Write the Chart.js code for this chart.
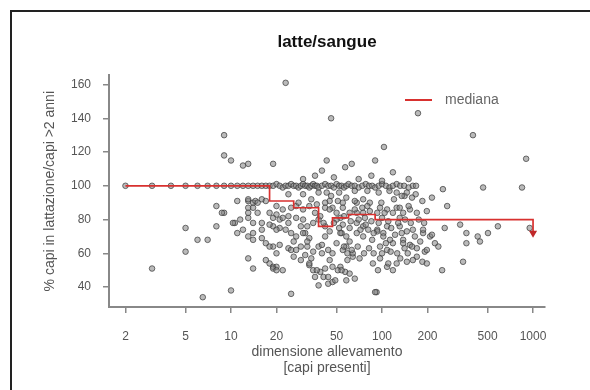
<!DOCTYPE html>
<html>
<head>
<meta charset="utf-8">
<script src="https://cdn.jsdelivr.net/npm/chart.js@4.4.0/dist/chart.umd.min.js"></script>
<style>
  html, body { margin: 0; padding: 0; background: #fff; width: 590px; height: 390px; overflow: hidden; }
  #frame { position: absolute; left: 10px; top: 10px; width: 640px; height: 440px; border: 2px solid #222; }
  #c { position: absolute; left: 0; top: 0; }
  #legLine { position: absolute; left: 405px; top: 99px; width: 27px; height: 2px; background: #d8312f; }
  #legText { position: absolute; left: 445px; top: 91px; font: 14px "Liberation Sans", Arial, sans-serif; color: #666; }
</style>
</head>
<body>
<div id="frame"></div>
<canvas id="c" width="590" height="390"></canvas>
<div id="legLine"></div>
<div id="legText">mediana</div>
<script>
// herd size (capi presenti) and % lactating / cows > 2 years
const herdSize = [
  2,3,4,5,6,7,8,9,10,11,12,13,14,15,16,17,
  18,19,20,21,22,23,24,25,26,27,
  28,29,30,31,32,33,34,35,36,37,
  38,40,42,44,46,48,50,52,54,56,
  58,60,63,66,70,74,78,82,86,90,
  95,100,106,112,118,125,132,140,150,160,
  168,
  3,5,5,6,7,6.5,8,8,9,10,
  9,9,10,12,13,19,23,46,173,103,
  400,900,845,467,253,214,141,167,43,40,
  57,63,48,90,118,70,85,150,30,36,
  100,125,112,95,80,66,52,38,30,24,
  950,
  11,13,13,13,13,11,13,13,14,18,
  19,14,16,17,10.6,11.5,13,14,15,12,
  14,16,18,19,20,21,19,21,23,25,
  16,18,16,17,19,21,24,27,26,29,
  20,22,25,33,35,36,39,41,44,47,
  32,35,38,27,30,32,25,27,30,31,
  33,42,45,42,43,45,42,47,50,53,
  54,58,61,55,59,64,59,53,57,68,
  74,75,68,75,81,83,93,100,93,102,
  108,97,108,118,92,108,125,125,138,131,
  131,146,160,138,153,170,170,185,158,185,
  198,17,19,20,10.3,14,8.7,
  260,329,362,430,445,503,585,362,344,250,
  192,146,160,187,208,224,236,179,141,270,
  14.5,15,14,20,22,24,27,30,32,18,
  20,25,37,42,44,38,33,47,51,49,
  44,47,40,38,50,55,53,46,51,55,
  42,45,
  58,66,75,83,55,61,68,77,97,108,
  118,131,153,170,135,146,61,68,75,86,
  93,102,113,122,138,158,198,58,64,71,
  88,97,110,54,61,118,90,187,214,198,
  28,33,36,39,41,35,29,24,22,20,
  34,37,48,52,56,62,66,70,72,78,
  80,85,88,95,99,104,110,115,120,128,
  135,142,150,155,165,175,190,26,29,31,
  34,40,45,50,56,63,69,76,82,87,
  94,100,106,114,126,132,148,58,66
];
const pctLatt = [
  100,100,100,100,100,100,100,100,100,100,100,100,100,100,100,100,
  100,100,101,100,99,100,100,101,100,100,
  99,100,101,100,100,99,100,101,100,100,
  99,100,101,100,100,99,101,100,100,99,
  100,101,100,100,99,100,101,100,100,99,
  100,101,100,99,100,101,100,100,99,100,
  100,
  51,75,61,68,68,34,76,88,84,38,
  130,118,115,112,113,113,161,140,143,123,
  130,116,99,99,98,93,94,95,115,109,
  111,113,105,115,108,104,106,104,104,106,
  103,96,97,96,97,97,96,96,95,95,
  75,
  91,91,92,81,87,72,70,57,51,54,
  52,90,92,91,78,80,84,87,84,74,
  68,69,84,81,83,80,76,75,74,72,
  78,77,74,66,64,65,63,62,58,56,
  52,50,36,53,50,46,49,46,42,43,
  64,61,64,81,80,76,87,88,86,72,
  69,76,73,70,96,91,90,87,84,81,
  72,70,67,62,60,58,56,52,49,90,
  87,84,78,76,74,85,84,81,74,72,
  76,64,62,66,37,52,54,87,84,81,
  76,73,74,68,65,63,58,55,93,91,
  85,56,51,50,78,78,84,
  75,77,72,70,67,72,76,66,55,50,
  61,55,56,72,70,66,64,67,63,88,
  91,90,72,74,81,78,70,72,67,64,
  60,62,50,51,46,41,54,52,50,44,
  62,60,65,80,80,77,72,94,91,90,
  87,86,
  93,91,92,90,87,84,84,81,87,86,
  84,87,86,84,94,96,75,72,70,68,
  73,70,68,71,66,64,62,64,60,57,
  60,57,54,50,48,50,37,74,71,54,
  90,88,84,82,78,78,76,82,86,88,
  92,89,78,75,82,79,86,80,74,77,
  88,79,72,78,90,84,79,75,92,78,
  72,80,88,78,70,80,78,67,64,59,
  57,60,56,66,64,62,64,60,63,54,
  50,60,66,61,60,57,60,44,45
];

// running median by herd size (step line)
const medX = [2, 18, 26, 38, 47, 60, 90, 1000, 1000];
const medY = [100, 91, 87, 76, 81, 83, 80, 80, 72];

const xTicks = [2, 5, 10, 20, 50, 100, 200, 500, 1000];
const yTicks = [40, 60, 80, 100, 120, 140, 160];

const FONT = '"Liberation Sans", Arial, sans-serif';

const points = herdSize.map((x, i) => ({ x: x, y: pctLatt[i] }));
const median = medX.map((x, i) => ({ x: x, y: medY[i] }));

new Chart(document.getElementById('c'), {
  type: 'scatter',
  data: {
    datasets: [
      {
        type: 'line',
        label: 'mediana',
        data: median,
        stepped: true,
        borderColor: '#d8312f',
        borderWidth: 1.7,
        fill: false,
        pointStyle: 'triangle',
        rotation: 180,
        pointRadius: ctx => (ctx.dataIndex === medX.length - 1 ? 3 : 0),
        pointBackgroundColor: '#c0282a',
        pointBorderColor: '#c0282a'
      },
      {
        label: 'allevamenti',
        data: points,
        pointRadius: 2.8,
        backgroundColor: 'rgba(130,130,130,0.55)',
        borderColor: 'rgba(55,55,55,0.7)',
        borderWidth: 1
      }
    ]
  },
  options: {
    responsive: false,
    animation: false,
    layout: { padding: { left: 0, right: 45, top: 0, bottom: 0 } },
    plugins: {
      legend: { display: false },
      tooltip: { enabled: false },
      title: {
        display: true,
        text: 'latte/sangue',
        fullSize: false,
        color: '#111',
        font: { family: FONT, size: 17, weight: 'bold' },
        padding: { top: 32, bottom: 23 }
      }
    },
    scales: {
      x: {
        type: 'logarithmic',
        position: 'bottom',
        min: 1.556,
        max: 1200,
        afterBuildTicks: s => { s.ticks = xTicks.map(v => ({ value: v })); },
        afterFit: s => { s.height = 83; },
        ticks: {
          autoSkip: false, maxRotation: 0, padding: 16, color: '#555',
          font: { family: FONT, size: 12 },
          callback: v => String(v)
        },
        grid: { drawOnChartArea: false, drawTicks: true, tickLength: 6, color: '#888', lineWidth: 1.5 },
        border: { display: true, color: '#888', width: 2 },
        title: {
          display: true,
          text: ['dimensione allevamento', '[capi presenti]'],
          color: '#555',
          font: { family: FONT, size: 14, lineHeight: '16px' },
          padding: { top: 0, bottom: 14 }
        }
      },
      y: {
        type: 'linear',
        min: 28.2,
        max: 165.4,
        afterBuildTicks: s => { s.ticks = yTicks.map(v => ({ value: v })); },
        afterFit: s => { s.width = 109; },
        ticks: { padding: 12, color: '#555', font: { family: FONT, size: 12 } },
        grid: { drawOnChartArea: false, drawTicks: true, tickLength: 6, color: '#888', lineWidth: 1.5 },
        border: { display: true, color: '#888', width: 2 },
        title: {
          display: true,
          text: '% capi in lattazione/capi >2 anni',
          color: '#555',
          font: { family: FONT, size: 14 },
          padding: { top: 42, bottom: 0 }
        }
      }
    }
  }
});
</script>
</body>
</html>
